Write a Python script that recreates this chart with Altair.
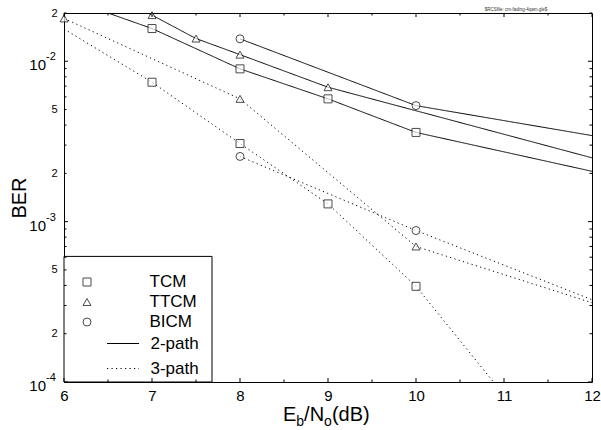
import altair as alt
import pandas as pd

# ---------------- data ----------------
markers_keys = ["TCM", "TTCM", "BICM"]
marker_shapes = ["square", "triangle-up", "circle"]
path_keys = ["2-path", "3-path"]

x_tcm_2 = [6, 7, 8, 9, 10, 12]
y_tcm_2 = [2.5e-2, 1.6e-2, 8.97e-3, 5.83e-3, 3.6e-3, 2.06e-3]
x_ttcm_2 = [6, 7, 7.5, 8, 9, 12]
y_ttcm_2 = [3.7e-2, 1.94e-2, 1.386e-2, 1.10e-2, 6.89e-3, 2.5e-3]
x_bicm_2 = [8, 10, 12]
y_bicm_2 = [1.38e-2, 5.29e-3, 3.44e-3]

x_tcm_3 = [6, 7, 8, 9, 10, 11]
y_tcm_3 = [1.59e-2, 7.4e-3, 3.07e-3, 1.29e-3, 3.95e-4, 8.3e-5]
x_ttcm_3 = [6, 8, 10, 12]
y_ttcm_3 = [1.85e-2, 5.83e-3, 7.0e-4, 3.12e-4]
x_bicm_3 = [8, 10, 12]
y_bicm_3 = [2.55e-3, 8.8e-4, 3.26e-4]

# x positions that carry a symbol
mx_tcm_2 = [7, 8, 9, 10]
mx_ttcm_2 = [7, 7.5, 8, 9]
mx_bicm_2 = [8, 10]
mx_tcm_3 = [7, 8, 9, 10]
mx_ttcm_3 = [6, 8, 10]
mx_bicm_3 = [8, 10]

x_ticks_major = [6, 7, 8, 9, 10, 11, 12]
x_ticks_minor = [6.5, 7.5, 8.5, 9.5, 10.5, 11.5]
y_mantissa_ticks = [2e-4, 5e-4, 2e-3, 5e-3, 2e-2]
y_decades = [1e-4, 1e-3, 1e-2]
y_decade_base = ["10", "10", "10"]
y_exponents = ["-4", "-3", "-2"]
y_minor = [2e-4, 3e-4, 4e-4, 5e-4, 6e-4, 7e-4, 8e-4, 9e-4,
           2e-3, 3e-3, 4e-3, 5e-3, 6e-3, 7e-3, 8e-3, 9e-3, 2e-2]
rcs_text = "$RCSfile: cm-fading-4qam.gle$"

# ---------------- tables ----------------
curves = [
    ("TCM", "2-path", x_tcm_2, y_tcm_2, mx_tcm_2),
    ("TTCM", "2-path", x_ttcm_2, y_ttcm_2, mx_ttcm_2),
    ("BICM", "2-path", x_bicm_2, y_bicm_2, mx_bicm_2),
    ("TCM", "3-path", x_tcm_3, y_tcm_3, mx_tcm_3),
    ("TTCM", "3-path", x_ttcm_3, y_ttcm_3, mx_ttcm_3),
    ("BICM", "3-path", x_bicm_3, y_bicm_3, mx_bicm_3),
]
line_rows, mark_rows = [], []
for s, p, xs, ys, mxs in curves:
    for i, (xv, yv) in enumerate(zip(xs, ys)):
        line_rows.append({"x": xv, "y": yv, "series": s, "path": p,
                          "curve": s + " " + p, "order": i})
        if xv in mxs:
            mark_rows.append({"x": xv, "y": yv, "series": s, "path": p})
lines_df = pd.DataFrame(line_rows)
marks_df = pd.DataFrame(mark_rows)

W, H = 528, 369
FONT = "Liberation Sans"

xscale = alt.Scale(domain=[6, 12], nice=False, zero=False)
yscale = alt.Scale(type="log", domain=[1e-4, 2e-2], nice=False)

shape_scale = alt.Scale(domain=markers_keys, range=marker_shapes)
dash_scale = alt.Scale(domain=path_keys, range=[[1, 0], [1.2, 3.3]])

common_leg = dict(title=None, orient="none", legendX=0, padding=0,
                  labelFont=FONT, labelFontSize=17, labelColor="black",
                  symbolStrokeWidth=1, labelLimit=300)
shape_legend = alt.Legend(legendY=260.5, symbolSize=64, rowPadding=2,
                          symbolOffset=14.5, labelOffset=54, **common_leg)
dash_legend = alt.Legend(legendY=314, symbolSize=1024, symbolType="stroke",
                         symbolStrokeColor="black", rowPadding=-5,
                         symbolOffset=42.5, labelOffset=11, **common_leg)

xaxis = alt.Axis(values=x_ticks_major, format="d", domain=False, ticks=False,
                 grid=False, labelFont=FONT, labelFontSize=15, labelColor="black",
                 labelPadding=6, labelFlush=False, title=None)
yaxis = alt.Axis(values=y_mantissa_ticks, domain=False, ticks=False, grid=False,
                 labelExpr="format(datum.value / pow(10, floor(log(datum.value)/LN10 + 0.0001)), '.0f')",
                 labelFont=FONT, labelColor="black", labelFontSize=11,
                 labelPadding=7, labelFlush=False, labelOverlap=False,
                 title="BER", titleFont=FONT, titleFontSize=20,
                 titleFontWeight="normal", titleColor="black", titleAngle=270,
                 titleX=-39, titleY=H / 2, titleBaseline="alphabetic",
                 titleAlign="center")

lines = alt.Chart(lines_df).mark_line(clip=True, color="black", strokeWidth=1).encode(
    x=alt.X("x:Q", scale=xscale, axis=xaxis),
    y=alt.Y("y:Q", scale=yscale, axis=yaxis),
    detail="curve:N",
    order="order:Q",
    strokeDash=alt.StrokeDash("path:N", scale=dash_scale, legend=dash_legend),
)

points = alt.Chart(marks_df).mark_point(filled=True, fill="white", stroke="black",
                                        strokeWidth=1, size=64).encode(
    x=alt.X("x:Q", scale=xscale, axis=xaxis),
    y=alt.Y("y:Q", scale=yscale, axis=yaxis),
    shape=alt.Shape("series:N", scale=shape_scale, legend=shape_legend),
)

# frame that holds both legends
legend_box = alt.Chart(pd.DataFrame({"k": [0]})).mark_rect(
    fill="white", stroke="black", strokeWidth=1).encode(
    x=alt.value(0), x2=alt.value(148), y=alt.value(243.4), y2=alt.value(H))

# inward tick marks on all four sides
def yticks(vals, length):
    df = pd.DataFrame({"v": vals})
    left = alt.Chart(df).mark_rule(color="black", strokeWidth=1).encode(
        y=alt.Y("v:Q", scale=yscale), x=alt.value(0), x2=alt.value(length))
    right = alt.Chart(df).mark_rule(color="black", strokeWidth=1).encode(
        y=alt.Y("v:Q", scale=yscale), x=alt.value(W - length), x2=alt.value(W))
    return [left, right]

def xticks(vals, length):
    df = pd.DataFrame({"v": vals})
    bottom = alt.Chart(df).mark_rule(color="black", strokeWidth=1).encode(
        x=alt.X("v:Q", scale=xscale), y=alt.value(H - length), y2=alt.value(H))
    top = alt.Chart(df).mark_rule(color="black", strokeWidth=1).encode(
        x=alt.X("v:Q", scale=xscale), y=alt.value(0), y2=alt.value(length))
    return [bottom, top]

tick_layers = (yticks(y_decades, 4) + yticks(y_minor, 2.5)
               + xticks(x_ticks_major, 4) + xticks(x_ticks_minor, 2.5))

dec_df = pd.DataFrame({"v": y_decades, "b": y_decade_base, "t": y_exponents})
bases = alt.Chart(dec_df).mark_text(
    align="right", baseline="middle", font=FONT, fontSize=15, color="black", dy=4).encode(
    y=alt.Y("v:Q", scale=yscale), x=alt.value(-18), text="b:N")
exps = alt.Chart(dec_df).mark_text(
    align="left", baseline="middle", font=FONT, fontSize=11, color="black", dy=-4).encode(
    y=alt.Y("v:Q", scale=yscale), x=alt.value(-18), text="t:N")

def label(txt, px, py, size):
    return alt.Chart(pd.DataFrame({"t": [txt]})).mark_text(
        align="left", baseline="alphabetic", font=FONT, fontSize=size,
        color="black").encode(x=alt.value(px), y=alt.value(py), text="t:N")

x0 = 219
title_parts = [
    label("E", x0, 407.5, 20),
    label("b", x0 + 13.3, 412.5, 14),
    label("/N", x0 + 21.1, 407.5, 20),
    label("o", x0 + 41.1, 412.5, 14),
    label("(dB)", x0 + 48.9, 407.5, 20),
]

rcs = alt.Chart(pd.DataFrame({"t": [rcs_text]})).mark_text(
    align="center", baseline="alphabetic", font=FONT, fontSize=4.5,
    color="#333333").encode(x=alt.value(452), y=alt.value(-2.5), text="t:N")

chart = alt.layer(lines, points, legend_box, *tick_layers, bases, exps,
                  *title_parts, rcs).properties(
    width=W, height=H,
    autosize=alt.AutoSizeParams(type="none"),
    padding={"left": 64, "top": 13, "right": 9, "bottom": 48},
    background="white",
).configure_view(stroke="black", strokeWidth=1)

chart.save("out.html", embed_options={"renderer": "svg", "actions": False})
